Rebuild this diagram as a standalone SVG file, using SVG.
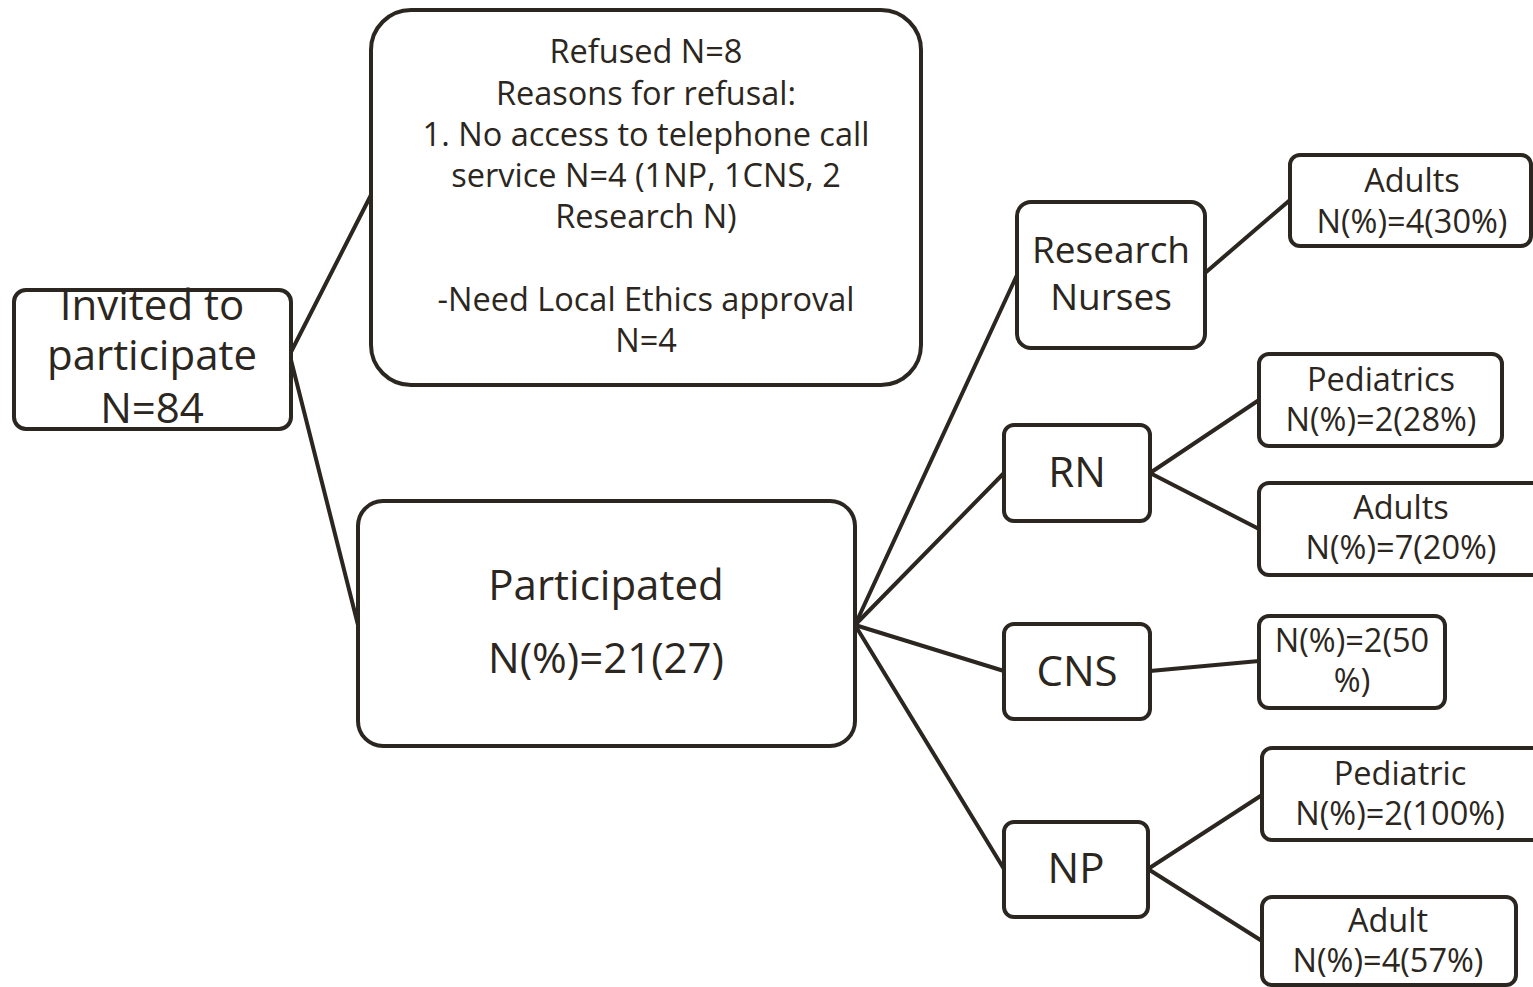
<svg xmlns="http://www.w3.org/2000/svg" width="1533" height="987" viewBox="0 0 1533 987">
<style>
.box{fill:#fff;stroke:#2b2620;stroke-width:4}
.t{font-family:"Open Sans","Noto Sans",sans-serif;fill:#2b2620;text-anchor:middle}
.s{font-size:32.5px}
.m{font-size:37px}
.l{font-size:42px}
#connectors line{stroke:#2b2620;stroke-width:4;stroke-linecap:round}
</style>
<rect width="1533" height="987" fill="#fff"/>
<g id="connectors">
<line x1="291" y1="352" x2="371" y2="195"/>
<line x1="291" y1="360" x2="358" y2="625"/>
<line x1="855" y1="625" x2="1017" y2="275"/>
<line x1="855" y1="625" x2="1004" y2="473"/>
<line x1="855" y1="625" x2="1004" y2="671"/>
<line x1="855" y1="625" x2="1004" y2="869"/>
<line x1="1205" y1="273" x2="1290" y2="200"/>
<line x1="1150" y1="473" x2="1259" y2="400"/>
<line x1="1150" y1="473" x2="1259" y2="529"/>
<line x1="1150" y1="671" x2="1259" y2="661"/>
<line x1="1148" y1="869" x2="1262" y2="795"/>
<line x1="1148" y1="869" x2="1262" y2="941"/>
</g>
<g id="invited">
<rect class="box" x="14" y="290" width="277" height="139" rx="12"/>
<text class="t l" x="152" y="320">Invited to</text>
<text class="t l" x="152" y="370">participate</text>
<text class="t l" x="152" y="423">N=84</text>
</g>
<g id="refused">
<rect class="box" x="371" y="10" width="550" height="375" rx="40"/>
<text class="t s" x="646" y="63">Refused N=8</text>
<text class="t s" x="646" y="105">Reasons for refusal:</text>
<text class="t s" x="646" y="146">1. No access to telephone call</text>
<text class="t s" x="646" y="187">service N=4 (1NP, 1CNS, 2</text>
<text class="t s" x="646" y="228">Research N)</text>
<text class="t s" x="646" y="311">-Need Local Ethics approval</text>
<text class="t s" x="646" y="352">N=4</text>
</g>
<g id="participated">
<rect class="box" x="358" y="501" width="497" height="245" rx="25"/>
<text class="t l" x="606" y="600">Participated</text>
<text class="t l" x="606" y="673">N(%)=21(27)</text>
</g>
<g id="research-nurses">
<rect class="box" x="1017" y="202" width="188" height="146" rx="14"/>
<text class="t m" x="1111" y="263">Research</text>
<text class="t m" x="1111" y="310">Nurses</text>
</g>
<g id="rn">
<rect class="box" x="1004" y="425" width="146" height="96" rx="10"/>
<text class="t l" x="1077" y="487">RN</text>
</g>
<g id="cns">
<rect class="box" x="1004" y="624" width="146" height="95" rx="10"/>
<text class="t l" x="1077" y="686">CNS</text>
</g>
<g id="np">
<rect class="box" x="1004" y="822" width="144" height="95" rx="10"/>
<text class="t l" x="1076" y="883">NP</text>
</g>
<g id="rn-adults">
<rect class="box" x="1290" y="155" width="241" height="91" rx="10"/>
<text class="t s" x="1412" y="192">Adults</text>
<text class="t s" x="1412" y="233">N(%)=4(30%)</text>
</g>
<g id="rn-pediatrics">
<rect class="box" x="1259" y="354" width="243" height="92" rx="10"/>
<text class="t s" x="1381" y="391">Pediatrics</text>
<text class="t s" x="1381" y="431">N(%)=2(28%)</text>
</g>
<g id="rn-adults-2">
<rect class="box" x="1259" y="483" width="290" height="92" rx="10"/>
<text class="t s" x="1401" y="519">Adults</text>
<text class="t s" x="1401" y="559">N(%)=7(20%)</text>
</g>
<g id="cns-child">
<rect class="box" x="1259" y="616" width="186" height="92" rx="10"/>
<text class="t s" x="1352" y="652">N(%)=2(50</text>
<text class="t s" x="1352" y="692">%)</text>
</g>
<g id="np-pediatric">
<rect class="box" x="1262" y="748" width="290" height="92" rx="10"/>
<text class="t s" x="1400" y="785">Pediatric</text>
<text class="t s" x="1400" y="825">N(%)=2(100%)</text>
</g>
<g id="np-adult">
<rect class="box" x="1262" y="897" width="254" height="88" rx="10"/>
<text class="t s" x="1388" y="932">Adult</text>
<text class="t s" x="1388" y="972">N(%)=4(57%)</text>
</g>
</svg>
